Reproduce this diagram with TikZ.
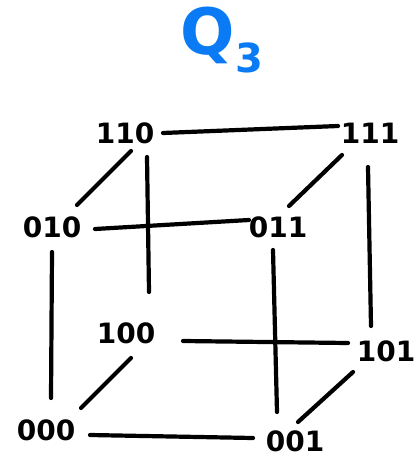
\documentclass[tikz,border=0pt]{standalone}
\usepackage{fontspec}
\setmainfont{DejaVu Sans}
\usepackage{tikz}
\definecolor{penblue}{HTML}{0A7BF5}

\begin{document}
\begin{tikzpicture}[x=0.5pt,y=-0.5pt,
  vtx/.style={inner sep=0pt,font=\fontsize{14}{16}\selectfont\bfseries},
  edge/.style={line width=2.1pt,line cap=round},
  title/.style={inner sep=0pt,text=penblue,font=\fontsize{32}{34}\selectfont\bfseries}]
\useasboundingbox (0,0) rectangle (413,460);
\node[title] (qthree) at (222,40) {Q\raisebox{-9pt}{\fontsize{20}{22}\selectfont 3}};
% top face
\node[vtx] (v110) at (125,133) {110};
\node[vtx] (v111) at (370,133) {111};
\node[vtx] (v010) at (52,227) {010};
\node[vtx] (v011) at (278,227) {011};
% bottom face
\node[vtx] (v100) at (126,333) {100};
\node[vtx] (v101) at (386,351) {101};
\node[vtx] (v000) at (46,430) {000};
\node[vtx] (v001) at (295,441) {001};
% edges
\draw[edge] ([shift={(38,0)}]v110.center) -- ([shift={(-32,-7)}]v111.center);
\draw[edge] ([shift={(6,18)}]v110.center) -- ([shift={(25,-22)}]v010.center);
\draw[edge] ([shift={(-28,22)}]v111.center) -- ([shift={(11,-21)}]v011.center);
\draw[edge] ([shift={(43,2)}]v010.center) -- ([shift={(-29,-7)}]v011.center);
\draw[edge] ([shift={(22,24)}]v110.center) -- ([shift={(23,-41)}]v100.center);
\draw[edge] ([shift={(0,25)}]v010.center) -- ([shift={(5,-32)}]v000.center);
\draw[edge] ([shift={(-5,23)}]v011.center) -- ([shift={(-18,-29)}]v001.center);
\draw[edge] ([shift={(-2,34)}]v111.center) -- ([shift={(-15,-25)}]v101.center);
\draw[edge] ([shift={(57,8)}]v100.center) -- ([shift={(-38,-8)}]v101.center);
\draw[edge] ([shift={(5,25)}]v100.center) -- ([shift={(35,-22)}]v000.center);
\draw[edge] ([shift={(-33,21)}]v101.center) -- ([shift={(3,-19)}]v001.center);
\draw[edge] ([shift={(44,5)}]v000.center) -- ([shift={(-42,-3)}]v001.center);
\end{tikzpicture}
\end{document}
